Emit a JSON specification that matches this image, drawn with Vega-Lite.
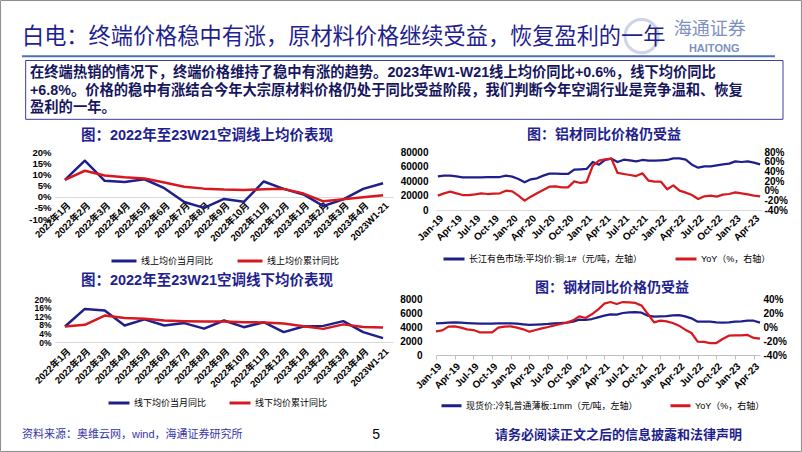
{
  "$schema": "https://vega.github.io/schema/vega-lite/v6.json",
  "background": "white",
  "padding": 0,
  "columns": 2,
  "bounds": "flush",
  "align": "each",
  "spacing": {"row": 80, "column": 43},
  "resolve": {"scale": {"color": "independent"}},
  "datasets": {
    "tl": [
      {"m": "2022年1月", "s": "线上均价当月同比", "v": 7.5}, {"m": "2022年2月", "s": "线上均价当月同比", "v": 16.1}, {"m": "2022年3月", "s": "线上均价当月同比", "v": 7.1}, {"m": "2022年4月", "s": "线上均价当月同比", "v": 6.6}, {"m": "2022年5月", "s": "线上均价当月同比", "v": 7.8}, {"m": "2022年6月", "s": "线上均价当月同比", "v": 3.8}, {"m": "2022年7月", "s": "线上均价当月同比", "v": -2.4}, {"m": "2022年8月", "s": "线上均价当月同比", "v": -5.0}, {"m": "2022年9月", "s": "线上均价当月同比", "v": -1.0}, {"m": "2022年10月", "s": "线上均价当月同比", "v": -2.3}, {"m": "2022年11月", "s": "线上均价当月同比", "v": 6.8}, {"m": "2022年12月", "s": "线上均价当月同比", "v": 3.5}, {"m": "2023年1月", "s": "线上均价当月同比", "v": 1.0}, {"m": "2023年2月", "s": "线上均价当月同比", "v": -4.2}, {"m": "2023年3月", "s": "线上均价当月同比", "v": -1.2}, {"m": "2023年4月", "s": "线上均价当月同比", "v": 3.5}, {"m": "2023W1-21", "s": "线上均价当月同比", "v": 6.0},
      {"m": "2022年1月", "s": "线上均价累计同比", "v": 7.5}, {"m": "2022年2月", "s": "线上均价累计同比", "v": 11.6}, {"m": "2022年3月", "s": "线上均价累计同比", "v": 9.5}, {"m": "2022年4月", "s": "线上均价累计同比", "v": 8.7}, {"m": "2022年5月", "s": "线上均价累计同比", "v": 8.1}, {"m": "2022年6月", "s": "线上均价累计同比", "v": 6.3}, {"m": "2022年7月", "s": "线上均价累计同比", "v": 4.4}, {"m": "2022年8月", "s": "线上均价累计同比", "v": 3.6}, {"m": "2022年9月", "s": "线上均价累计同比", "v": 3.2}, {"m": "2022年10月", "s": "线上均价累计同比", "v": 3.0}, {"m": "2022年11月", "s": "线上均价累计同比", "v": 3.3}, {"m": "2022年12月", "s": "线上均价累计同比", "v": 3.5}, {"m": "2023年1月", "s": "线上均价累计同比", "v": 1.4}, {"m": "2023年2月", "s": "线上均价累计同比", "v": -2.1}, {"m": "2023年3月", "s": "线上均价累计同比", "v": -1.2}, {"m": "2023年4月", "s": "线上均价累计同比", "v": -0.3}, {"m": "2023W1-21", "s": "线上均价累计同比", "v": 0.6}
    ],
    "bl": [
      {"m": "2022年1月", "s": "线下均价当月同比", "v": 7.2}, {"m": "2022年2月", "s": "线下均价当月同比", "v": 15.4}, {"m": "2022年3月", "s": "线下均价当月同比", "v": 14.6}, {"m": "2022年4月", "s": "线下均价当月同比", "v": 7.7}, {"m": "2022年5月", "s": "线下均价当月同比", "v": 10.5}, {"m": "2022年6月", "s": "线下均价当月同比", "v": 7.7}, {"m": "2022年7月", "s": "线下均价当月同比", "v": 8.8}, {"m": "2022年8月", "s": "线下均价当月同比", "v": 6.2}, {"m": "2022年9月", "s": "线下均价当月同比", "v": 10.0}, {"m": "2022年10月", "s": "线下均价当月同比", "v": 6.9}, {"m": "2022年11月", "s": "线下均价当月同比", "v": 9.2}, {"m": "2022年12月", "s": "线下均价当月同比", "v": 4.6}, {"m": "2023年1月", "s": "线下均价当月同比", "v": 7.2}, {"m": "2023年2月", "s": "线下均价当月同比", "v": 7.5}, {"m": "2023年3月", "s": "线下均价当月同比", "v": 9.7}, {"m": "2023年4月", "s": "线下均价当月同比", "v": 4.6}, {"m": "2023W1-21", "s": "线下均价当月同比", "v": 1.8},
      {"m": "2022年1月", "s": "线下均价累计同比", "v": 7.2}, {"m": "2022年2月", "s": "线下均价累计同比", "v": 8.0}, {"m": "2022年3月", "s": "线下均价累计同比", "v": 12.3}, {"m": "2022年4月", "s": "线下均价累计同比", "v": 11.2}, {"m": "2022年5月", "s": "线下均价累计同比", "v": 10.8}, {"m": "2022年6月", "s": "线下均价累计同比", "v": 10.0}, {"m": "2022年7月", "s": "线下均价累计同比", "v": 9.7}, {"m": "2022年8月", "s": "线下均价累计同比", "v": 9.5}, {"m": "2022年9月", "s": "线下均价累计同比", "v": 9.5}, {"m": "2022年10月", "s": "线下均价累计同比", "v": 9.2}, {"m": "2022年11月", "s": "线下均价累计同比", "v": 9.1}, {"m": "2022年12月", "s": "线下均价累计同比", "v": 8.6}, {"m": "2023年1月", "s": "线下均价累计同比", "v": 7.3}, {"m": "2023年2月", "s": "线下均价累计同比", "v": 6.1}, {"m": "2023年3月", "s": "线下均价累计同比", "v": 8.2}, {"m": "2023年4月", "s": "线下均价累计同比", "v": 7.0}, {"m": "2023W1-21", "s": "线下均价累计同比", "v": 6.8}
    ],
    "cu": [
      {"m": "Jan-19", "p": 46400, "r": -10.3}, {"m": "Feb-19", "p": 47400, "r": -5.5}, {"m": "Mar-19", "p": 47400, "r": -2.1}, {"m": "Apr-19", "p": 46400, "r": -5.5}, {"m": "May-19", "p": 45000, "r": -9.0}, {"m": "Jun-19", "p": 45000, "r": -9.0}, {"m": "Jul-19", "p": 45000, "r": -7.6}, {"m": "Aug-19", "p": 45000, "r": -5.5}, {"m": "Sep-19", "p": 45500, "r": -6.9}, {"m": "Oct-19", "p": 45500, "r": -6.2}, {"m": "Nov-19", "p": 45500, "r": -5.5}, {"m": "Dec-19", "p": 47400, "r": 0.0},
      {"m": "Jan-20", "p": 46000, "r": -1.4}, {"m": "Feb-20", "p": 42800, "r": -10.3}, {"m": "Mar-20", "p": 38200, "r": -20.7}, {"m": "Apr-20", "p": 42300, "r": -12.4}, {"m": "May-20", "p": 43700, "r": -5.5}, {"m": "Jun-20", "p": 47400, "r": 1.4}, {"m": "Jul-20", "p": 50100, "r": 8.3}, {"m": "Aug-20", "p": 50100, "r": 9.0}, {"m": "Sep-20", "p": 49700, "r": 6.9}, {"m": "Oct-20", "p": 49700, "r": 6.9}, {"m": "Nov-20", "p": 55600, "r": 19.3}, {"m": "Dec-20", "p": 56100, "r": 15.9},
      {"m": "Jan-21", "p": 56600, "r": 17.9}, {"m": "Feb-21", "p": 66200, "r": 51.7}, {"m": "Mar-21", "p": 62500, "r": 62.0}, {"m": "Apr-21", "p": 69000, "r": 64.8}, {"m": "May-21", "p": 70800, "r": 66.2}, {"m": "Jun-21", "p": 66200, "r": 36.6}, {"m": "Jul-21", "p": 69400, "r": 34.5}, {"m": "Aug-21", "p": 68500, "r": 32.4}, {"m": "Sep-21", "p": 67100, "r": 30.3}, {"m": "Oct-21", "p": 69000, "r": 35.9}, {"m": "Nov-21", "p": 68000, "r": 20.7}, {"m": "Dec-21", "p": 68000, "r": 18.6},
      {"m": "Jan-22", "p": 68500, "r": 18.6}, {"m": "Feb-22", "p": 69000, "r": 2.8}, {"m": "Mar-22", "p": 71300, "r": 11.0}, {"m": "Apr-22", "p": 71300, "r": 0.0}, {"m": "May-22", "p": 69400, "r": -4.1}, {"m": "Jun-22", "p": 62500, "r": -9.0}, {"m": "Jul-22", "p": 58400, "r": -17.2}, {"m": "Aug-22", "p": 60200, "r": -11.7}, {"m": "Sep-22", "p": 60200, "r": -10.3}, {"m": "Oct-22", "p": 61600, "r": -12.4}, {"m": "Nov-22", "p": 63000, "r": -8.3}, {"m": "Dec-22", "p": 63900, "r": -6.9},
      {"m": "Jan-23", "p": 67100, "r": -3.4}, {"m": "Feb-23", "p": 66200, "r": -5.5}, {"m": "Mar-23", "p": 67100, "r": -7.6}, {"m": "Apr-23", "p": 65300, "r": -10.3}, {"m": "May-23", "p": 63000, "r": -11.7}
    ],
    "st": [
      {"m": "Jan-19", "p": 4520, "r": -6.2}, {"m": "Feb-19", "p": 4570, "r": -4.8}, {"m": "Mar-19", "p": 4620, "r": 0.5}, {"m": "Apr-19", "p": 4670, "r": 1.0}, {"m": "May-19", "p": 4620, "r": -1.0}, {"m": "Jun-19", "p": 4570, "r": -3.3}, {"m": "Jul-19", "p": 4520, "r": -4.3}, {"m": "Aug-19", "p": 4480, "r": -7.6}, {"m": "Sep-19", "p": 4480, "r": -7.6}, {"m": "Oct-19", "p": 4480, "r": -7.6}, {"m": "Nov-19", "p": 4520, "r": -1.0}, {"m": "Dec-19", "p": 4520, "r": 0.5},
      {"m": "Jan-20", "p": 4520, "r": 1.0}, {"m": "Feb-20", "p": 4480, "r": -1.0}, {"m": "Mar-20", "p": 4380, "r": -3.3}, {"m": "Apr-20", "p": 4290, "r": -6.7}, {"m": "May-20", "p": 4330, "r": -4.3}, {"m": "Jun-20", "p": 4380, "r": -1.9}, {"m": "Jul-20", "p": 4430, "r": 0.0}, {"m": "Aug-20", "p": 4520, "r": 2.4}, {"m": "Sep-20", "p": 4570, "r": 4.3}, {"m": "Oct-20", "p": 4620, "r": 6.2}, {"m": "Nov-20", "p": 4760, "r": 9.5}, {"m": "Dec-20", "p": 5050, "r": 15.2},
      {"m": "Jan-21", "p": 5000, "r": 12.9}, {"m": "Feb-21", "p": 5140, "r": 18.1}, {"m": "Mar-21", "p": 5380, "r": 24.8}, {"m": "Apr-21", "p": 5620, "r": 33.3}, {"m": "May-21", "p": 5810, "r": 35.7}, {"m": "Jun-21", "p": 5760, "r": 32.9}, {"m": "Jul-21", "p": 6000, "r": 35.7}, {"m": "Aug-21", "p": 6100, "r": 35.2}, {"m": "Sep-21", "p": 6140, "r": 34.3}, {"m": "Oct-21", "p": 6050, "r": 30.5}, {"m": "Nov-21", "p": 5620, "r": 18.6}, {"m": "Dec-21", "p": 5480, "r": 6.7},
      {"m": "Jan-22", "p": 5520, "r": 9.0}, {"m": "Feb-22", "p": 5570, "r": 8.1}, {"m": "Mar-22", "p": 5670, "r": 5.7}, {"m": "Apr-22", "p": 5710, "r": 1.9}, {"m": "May-22", "p": 5520, "r": -3.8}, {"m": "Jun-22", "p": 5240, "r": -8.6}, {"m": "Jul-22", "p": 4760, "r": -21.0}, {"m": "Aug-22", "p": 4760, "r": -21.4}, {"m": "Sep-22", "p": 4760, "r": -22.9}, {"m": "Oct-22", "p": 4670, "r": -22.9}, {"m": "Nov-22", "p": 4620, "r": -17.1}, {"m": "Dec-22", "p": 4670, "r": -12.4},
      {"m": "Jan-23", "p": 4760, "r": -11.9}, {"m": "Feb-23", "p": 4810, "r": -11.9}, {"m": "Mar-23", "p": 4900, "r": -11.4}, {"m": "Apr-23", "p": 4900, "r": -15.7}, {"m": "May-23", "p": 4620, "r": -16.7}
    ]
  },
  "concat": [
    {
      "width": 338,
      "height": 55,
      "layer": [
        {
          "data": {"values": [{"k": "frame"}]},
          "mark": {"type": "rect", "fillOpacity": 0, "stroke": "#8C8C8C", "strokeWidth": 1},
          "encoding": {
            "x": {"datum": 0.07, "type": "quantitative", "scale": {"domain": [0, 100], "range": [-55, 747], "nice": false, "zero": false}, "axis": null},
            "x2": {"datum": 99.93},
            "y": {"datum": 0.12, "type": "quantitative", "scale": {"domain": [0, 100], "range": [-17, 435], "nice": false, "zero": false}, "axis": null},
            "y2": {"datum": 99.88}
          }
        },
        {
          "data": {"values": [{"k": "emblem"}]},
          "mark": {"type": "point", "shape": "circle", "filled": false, "stroke": "#B8C3DD", "strokeWidth": 3, "size": 1100},
          "encoding": {
            "x": {"datum": 80.0, "type": "quantitative", "scale": {"domain": [0, 100], "range": [-55, 747], "nice": false, "zero": false}, "axis": null},
            "y": {"datum": 8.0, "type": "quantitative", "scale": {"domain": [0, 100], "range": [-17, 435], "nice": false, "zero": false}, "axis": null}
          }
        },
        {
          "data": {"values": [{"t": "白电：终端价格稳中有涨，原材料价格继续受益，恢复盈利的一年"}]},
          "mark": {"type": "text", "align": "left", "baseline": "middle", "fontSize": 22.2, "font": "Noto Sans CJK SC", "color": "#1F1F8F"},
          "encoding": {
            "x": {"datum": 2.74, "type": "quantitative", "scale": {"domain": [0, 100], "range": [-55, 747], "nice": false, "zero": false}, "axis": null},
            "y": {"datum": 8.19, "type": "quantitative", "scale": {"domain": [0, 100], "range": [-17, 435], "nice": false, "zero": false}, "axis": null},
            "text": {"field": "t"}
          }
        },
        {
          "data": {"values": [{"t": "海通证券"}]},
          "mark": {"type": "text", "align": "left", "baseline": "middle", "fontSize": 18, "font": "Noto Sans CJK SC", "color": "#7F90BF"},
          "encoding": {
            "x": {"datum": 84.0, "type": "quantitative", "scale": {"domain": [0, 100], "range": [-55, 747], "nice": false, "zero": false}, "axis": null},
            "y": {"datum": 6.6, "type": "quantitative", "scale": {"domain": [0, 100], "range": [-17, 435], "nice": false, "zero": false}, "axis": null},
            "text": {"field": "t"}
          }
        },
        {
          "data": {"values": [{"t": "HAITONG"}]},
          "mark": {"type": "text", "align": "left", "baseline": "middle", "fontSize": 11, "fontWeight": "bold", "font": "Liberation Sans", "color": "#7F90BF"},
          "encoding": {
            "x": {"datum": 85.9, "type": "quantitative", "scale": {"domain": [0, 100], "range": [-55, 747], "nice": false, "zero": false}, "axis": null},
            "y": {"datum": 10.9, "type": "quantitative", "scale": {"domain": [0, 100], "range": [-17, 435], "nice": false, "zero": false}, "axis": null},
            "text": {"field": "t"}
          }
        },
        {
          "data": {"values": [{"k": "rule"}]},
          "mark": {"type": "rule", "color": "#4D72B5", "strokeWidth": 2},
          "encoding": {
            "x": {"datum": 2.74, "type": "quantitative", "scale": {"domain": [0, 100], "range": [-55, 747], "nice": false, "zero": false}, "axis": null},
            "x2": {"datum": 96.63},
            "y": {"datum": 12.45, "type": "quantitative", "scale": {"domain": [0, 100], "range": [-17, 435], "nice": false, "zero": false}, "axis": null}
          }
        },
        {
          "data": {"values": [{"k": "box"}]},
          "mark": {"type": "rect", "fillOpacity": 0, "stroke": "#3B3B9E", "strokeWidth": 1},
          "encoding": {
            "x": {"datum": 3.2, "type": "quantitative", "scale": {"domain": [0, 100], "range": [-55, 747], "nice": false, "zero": false}, "axis": null},
            "x2": {"datum": 97.63},
            "y": {"datum": 13.38, "type": "quantitative", "scale": {"domain": [0, 100], "range": [-17, 435], "nice": false, "zero": false}, "axis": null},
            "y2": {"datum": 26.4}
          }
        },
        {
          "data": {"values": [{"t": "在终端热销的情况下，终端价格维持了稳中有涨的趋势。2023年W1-W21线上均价同比+0.6%，线下均价同比\n+6.8%。价格的稳中有涨结合今年大宗原材料价格仍处于同比受益阶段，我们判断今年空调行业是竞争温和、恢复\n盈利的一年。"}]},
          "mark": {"type": "text", "align": "left", "baseline": "middle", "fontSize": 14.3, "fontWeight": "bold", "font": "Liberation Sans, Noto Sans CJK SC", "color": "#16165E", "lineBreak": "\n", "lineHeight": 17.5},
          "encoding": {
            "x": {"datum": 3.74, "type": "quantitative", "scale": {"domain": [0, 100], "range": [-55, 747], "nice": false, "zero": false}, "axis": null},
            "y": {"datum": 16.2, "type": "quantitative", "scale": {"domain": [0, 100], "range": [-17, 435], "nice": false, "zero": false}, "axis": null},
            "text": {"field": "t"}
          }
        },
        {
          "data": {"values": [{"t": "资料来源：奥维云网，wind，海通证券研究所"}]},
          "mark": {"type": "text", "align": "left", "baseline": "middle", "fontSize": 11, "font": "Liberation Sans, Noto Sans CJK SC", "color": "#3535A8"},
          "encoding": {
            "x": {"datum": 2.74, "type": "quantitative", "scale": {"domain": [0, 100], "range": [-55, 747], "nice": false, "zero": false}, "axis": null},
            "y": {"datum": 96.24, "type": "quantitative", "scale": {"domain": [0, 100], "range": [-17, 435], "nice": false, "zero": false}, "axis": null},
            "text": {"field": "t"}
          }
        },
        {
          "data": {"values": [{"t": "5"}]},
          "mark": {"type": "text", "align": "center", "baseline": "middle", "fontSize": 14, "font": "Liberation Sans", "color": "#000000"},
          "encoding": {
            "x": {"datum": 46.9, "type": "quantitative", "scale": {"domain": [0, 100], "range": [-55, 747], "nice": false, "zero": false}, "axis": null},
            "y": {"datum": 96.24, "type": "quantitative", "scale": {"domain": [0, 100], "range": [-17, 435], "nice": false, "zero": false}, "axis": null},
            "text": {"field": "t"}
          }
        },
        {
          "data": {"values": [{"t": "请务必阅读正文之后的信息披露和法律声明"}]},
          "mark": {"type": "text", "align": "left", "baseline": "middle", "fontSize": 13, "fontWeight": "bold", "font": "Noto Sans CJK SC", "color": "#1F1F8F"},
          "encoding": {
            "x": {"datum": 61.72, "type": "quantitative", "scale": {"domain": [0, 100], "range": [-55, 747], "nice": false, "zero": false}, "axis": null},
            "y": {"datum": 96.24, "type": "quantitative", "scale": {"domain": [0, 100], "range": [-17, 435], "nice": false, "zero": false}, "axis": null},
            "text": {"field": "t"}
          }
        }
      ]
    },
    {
      "width": 1,
      "height": 1,
      "data": {"values": [{"k": "spacer"}]},
      "mark": {"type": "point", "opacity": 0}
    },
    {
      "width": 338,
      "height": 67,
      "title": {"text": "图：2022年至23W21空调线上均价表现", "fontSize": 14.5, "fontWeight": "bold", "font": "Liberation Sans, Noto Sans CJK SC", "color": "#1F1F8F", "anchor": "middle", "frame": "group", "dx": -17, "offset": 4},
      "data": {"name": "tl"},
      "mark": {"type": "line", "strokeWidth": 2.5, "strokeJoin": "round"},
      "encoding": {
        "x": {"field": "m", "type": "nominal", "sort": null, "scale": {"type": "point", "padding": 0.5}, "axis": {"title": null, "labelAngle": -45, "labelFontSize": 9.5, "labelFontWeight": "bold", "labelFont": "Liberation Sans, Noto Sans CJK SC", "labelColor": "#000000", "ticks": false, "domain": true, "domainColor": "#D9D9D9", "offset": -22, "labelPadding": 3, "labelOverlap": false}},
        "y": {"field": "v", "type": "quantitative", "scale": {"domain": [-10, 20], "nice": false}, "axis": {"title": null, "values": [-10, -5, 0, 5, 10, 15, 20], "labelExpr": "datum.value + '%'", "labelOverlap": false, "grid": false, "domain": false, "ticks": false, "labelFontSize": 9.5, "labelFontWeight": "bold", "labelFont": "Liberation Sans", "labelColor": "#000000", "labelPadding": 4}},
        "color": {"field": "s", "type": "nominal", "scale": {"domain": ["线上均价当月同比", "线上均价累计同比"], "range": ["#1F1F8C", "#D7181F"]}, "legend": {"title": null, "orient": "none", "legendX": 55, "legendY": 95, "direction": "horizontal", "symbolType": "stroke", "symbolSize": 625, "symbolStrokeWidth": 3, "labelFontSize": 9, "labelFont": "Liberation Sans, Noto Sans CJK SC", "labelColor": "#000000", "labelLimit": 0, "columnPadding": 17, "labelOffset": 3, "padding": 0}}
      }
    },
    {
      "width": 326,
      "height": 58,
      "title": {"text": "图：铝材同比价格仍受益", "fontSize": 14, "fontWeight": "bold", "font": "Liberation Sans, Noto Sans CJK SC", "color": "#1F1F8F", "anchor": "middle", "frame": "group", "dx": 5, "offset": 5},
      "data": {"name": "cu"},
      "layer": [
        {
          "mark": {"type": "line", "strokeWidth": 2.25, "strokeJoin": "round"},
          "encoding": {
            "x": {"field": "m", "type": "ordinal", "sort": null, "scale": {"type": "point", "padding": 0.3}, "axis": {"title": null, "values": ["Jan-19", "Apr-19", "Jul-19", "Oct-19", "Jan-20", "Apr-20", "Jul-20", "Oct-20", "Jan-21", "Apr-21", "Jul-21", "Oct-21", "Jan-22", "Apr-22", "Jul-22", "Oct-22", "Jan-23", "Apr-23"], "labelAngle": -45, "labelFontSize": 10, "labelFontWeight": "bold", "labelFont": "Liberation Sans", "labelColor": "#000000", "ticks": false, "domainColor": "#D9D9D9", "labelPadding": 3, "labelOverlap": false}},
            "y": {"field": "p", "type": "quantitative", "scale": {"domain": [0, 80000], "nice": false}, "axis": {"title": null, "orient": "left", "values": [0, 20000, 40000, 60000, 80000], "format": "d", "labelOverlap": false, "grid": false, "domain": false, "ticks": false, "labelFontSize": 10, "labelFontWeight": "bold", "labelFont": "Liberation Sans", "labelColor": "#000000", "labelPadding": 8}},
            "color": {"datum": "长江有色市场:平均价:铜:1#（元/吨，左轴）", "type": "nominal", "scale": {"domain": ["长江有色市场:平均价:铜:1#（元/吨，左轴）", "YoY（%，右轴）"], "range": ["#1F1F8C", "#D7181F"]}, "legend": {"title": null, "orient": "none", "legendX": 6, "legendY": 95, "direction": "horizontal", "symbolType": "stroke", "symbolSize": 441, "symbolStrokeWidth": 3, "labelFontSize": 9, "labelFont": "Liberation Sans, Noto Sans CJK SC", "labelColor": "#000000", "labelLimit": 0, "columnPadding": 26, "labelOffset": 3, "padding": 0}}
          }
        },
        {
          "mark": {"type": "line", "strokeWidth": 2.25, "strokeJoin": "round"},
          "encoding": {
            "x": {"field": "m", "type": "ordinal", "sort": null, "scale": {"type": "point", "padding": 0.3}, "axis": {"title": null, "values": ["Jan-19", "Apr-19", "Jul-19", "Oct-19", "Jan-20", "Apr-20", "Jul-20", "Oct-20", "Jan-21", "Apr-21", "Jul-21", "Oct-21", "Jan-22", "Apr-22", "Jul-22", "Oct-22", "Jan-23", "Apr-23"], "labelAngle": -45, "labelFontSize": 10, "labelFontWeight": "bold", "labelFont": "Liberation Sans", "labelColor": "#000000", "ticks": false, "domainColor": "#D9D9D9", "labelPadding": 3, "labelOverlap": false}},
            "y": {"field": "r", "type": "quantitative", "scale": {"domain": [-40, 80], "nice": false}, "axis": {"title": null, "orient": "right", "values": [-40, -20, 0, 20, 40, 60, 80], "labelExpr": "datum.value + '%'", "labelOverlap": false, "grid": false, "domain": false, "ticks": false, "labelFontSize": 10, "labelFontWeight": "bold", "labelFont": "Liberation Sans", "labelColor": "#000000", "labelPadding": 2}},
            "color": {"datum": "YoY（%，右轴）", "type": "nominal", "scale": {"domain": ["长江有色市场:平均价:铜:1#（元/吨，左轴）", "YoY（%，右轴）"], "range": ["#1F1F8C", "#D7181F"]}, "legend": {"title": null, "orient": "none", "legendX": 6, "legendY": 95, "direction": "horizontal", "symbolType": "stroke", "symbolSize": 441, "symbolStrokeWidth": 3, "labelFontSize": 9, "labelFont": "Liberation Sans, Noto Sans CJK SC", "labelColor": "#000000", "labelLimit": 0, "columnPadding": 26, "labelOffset": 3, "padding": 0}}
          }
        }
      ],
      "resolve": {"scale": {"y": "independent"}}
    },
    {
      "width": 338,
      "height": 43,
      "title": {"text": "图：2022年至23W21空调线下均价表现", "fontSize": 14.5, "fontWeight": "bold", "font": "Liberation Sans, Noto Sans CJK SC", "color": "#1F1F8F", "anchor": "middle", "frame": "group", "dx": -17, "offset": 7},
      "data": {"name": "bl"},
      "mark": {"type": "line", "strokeWidth": 2.5, "strokeJoin": "round"},
      "encoding": {
        "x": {"field": "m", "type": "nominal", "sort": null, "scale": {"type": "point", "padding": 0.5}, "axis": {"title": null, "labelAngle": -45, "labelFontSize": 9.5, "labelFontWeight": "bold", "labelFont": "Liberation Sans, Noto Sans CJK SC", "labelColor": "#000000", "ticks": false, "domain": true, "domainColor": "#D9D9D9", "labelPadding": 4, "labelOverlap": false}},
        "y": {"field": "v", "type": "quantitative", "scale": {"domain": [0, 20], "nice": false}, "axis": {"title": null, "values": [0, 4, 8, 12, 16, 20], "labelExpr": "datum.value + '%'", "labelOverlap": false, "grid": false, "domain": false, "ticks": false, "labelFontSize": 8.5, "labelFontWeight": "bold", "labelFont": "Liberation Sans", "labelColor": "#000000", "labelPadding": 4}},
        "color": {"field": "s", "type": "nominal", "scale": {"domain": ["线下均价当月同比", "线下均价累计同比"], "range": ["#1F1F8C", "#D7181F"]}, "legend": {"title": null, "orient": "none", "legendX": 52, "legendY": 92, "direction": "horizontal", "symbolType": "stroke", "symbolSize": 441, "symbolStrokeWidth": 3, "labelFontSize": 9, "labelFont": "Liberation Sans, Noto Sans CJK SC", "labelColor": "#000000", "labelLimit": 0, "columnPadding": 16, "labelOffset": 3, "padding": 0}}
      }
    },
    {
      "width": 324,
      "height": 56,
      "title": {"text": "图：钢材同比价格仍受益", "fontSize": 14, "fontWeight": "bold", "font": "Liberation Sans, Noto Sans CJK SC", "color": "#1F1F8F", "anchor": "middle", "frame": "group", "dx": 14, "offset": -1},
      "data": {"name": "st"},
      "layer": [
        {
          "mark": {"type": "line", "strokeWidth": 2.25, "strokeJoin": "round"},
          "encoding": {
            "x": {"field": "m", "type": "ordinal", "sort": null, "scale": {"type": "point", "padding": 0}, "axis": {"title": null, "values": ["Jan-19", "Apr-19", "Jul-19", "Oct-19", "Jan-20", "Apr-20", "Jul-20", "Oct-20", "Jan-21", "Apr-21", "Jul-21", "Oct-21", "Jan-22", "Apr-22", "Jul-22", "Oct-22", "Jan-23", "Apr-23"], "labelAngle": -45, "labelFontSize": 10, "labelFontWeight": "bold", "labelFont": "Liberation Sans", "labelColor": "#000000", "ticks": true, "tickSize": 4, "tickColor": "#BFBFBF", "domainColor": "#BFBFBF", "labelPadding": 2, "labelOverlap": false}},
            "y": {"field": "p", "type": "quantitative", "scale": {"domain": [0, 8000], "nice": false}, "axis": {"title": null, "orient": "left", "values": [0, 2000, 4000, 6000, 8000], "format": "d", "labelOverlap": false, "grid": false, "domain": false, "ticks": false, "labelFontSize": 10, "labelFontWeight": "bold", "labelFont": "Liberation Sans", "labelColor": "#000000", "labelPadding": 14}},
            "color": {"datum": "现货价:冷轧普通薄板:1mm（元/吨，左轴）", "type": "nominal", "scale": {"domain": ["现货价:冷轧普通薄板:1mm（元/吨，左轴）", "YoY（%，右轴）"], "range": ["#1F1F8C", "#D7181F"]}, "legend": {"title": null, "orient": "none", "legendX": 4, "legendY": 95, "direction": "horizontal", "symbolType": "stroke", "symbolSize": 400, "symbolStrokeWidth": 3, "labelFontSize": 9, "labelFont": "Liberation Sans, Noto Sans CJK SC", "labelColor": "#000000", "labelLimit": 0, "columnPadding": 26, "labelOffset": 3, "padding": 0}}
          }
        },
        {
          "mark": {"type": "line", "strokeWidth": 2.25, "strokeJoin": "round"},
          "encoding": {
            "x": {"field": "m", "type": "ordinal", "sort": null, "scale": {"type": "point", "padding": 0}, "axis": {"title": null, "values": ["Jan-19", "Apr-19", "Jul-19", "Oct-19", "Jan-20", "Apr-20", "Jul-20", "Oct-20", "Jan-21", "Apr-21", "Jul-21", "Oct-21", "Jan-22", "Apr-22", "Jul-22", "Oct-22", "Jan-23", "Apr-23"], "labelAngle": -45, "labelFontSize": 10, "labelFontWeight": "bold", "labelFont": "Liberation Sans", "labelColor": "#000000", "ticks": true, "tickSize": 4, "tickColor": "#BFBFBF", "domainColor": "#BFBFBF", "labelPadding": 2, "labelOverlap": false}},
            "y": {"field": "r", "type": "quantitative", "scale": {"domain": [-40, 40], "nice": false}, "axis": {"title": null, "orient": "right", "values": [-40, -20, 0, 20, 40], "labelExpr": "datum.value + '%'", "labelOverlap": false, "grid": false, "domain": false, "ticks": false, "labelFontSize": 10, "labelFontWeight": "bold", "labelFont": "Liberation Sans", "labelColor": "#000000", "labelPadding": 3}},
            "color": {"datum": "YoY（%，右轴）", "type": "nominal", "scale": {"domain": ["现货价:冷轧普通薄板:1mm（元/吨，左轴）", "YoY（%，右轴）"], "range": ["#1F1F8C", "#D7181F"]}, "legend": {"title": null, "orient": "none", "legendX": 4, "legendY": 95, "direction": "horizontal", "symbolType": "stroke", "symbolSize": 400, "symbolStrokeWidth": 3, "labelFontSize": 9, "labelFont": "Liberation Sans, Noto Sans CJK SC", "labelColor": "#000000", "labelLimit": 0, "columnPadding": 26, "labelOffset": 3, "padding": 0}}
          }
        }
      ],
      "resolve": {"scale": {"y": "independent"}}
    }
  ],
  "config": {
    "view": {"stroke": null},
    "font": "Liberation Sans, Noto Sans CJK SC"
  }
}
